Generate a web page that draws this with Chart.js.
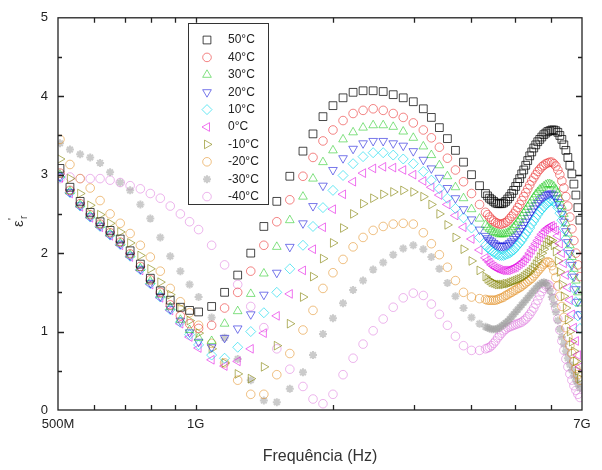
<!DOCTYPE html>
<html>
<head>
<meta charset="utf-8">
<script src="https://cdn.jsdelivr.net/npm/chart.js@4"></script>
<style>
  html, body { margin: 0; padding: 0; background: #fff; }
  #wrap { width: 602px; height: 470px; }
</style>
</head>
<body>
<div id="wrap"><canvas id="chart" width="602" height="470"></canvas></div>
<script>
// Frequency points (GHz), shared by every temperature
const freqGHz = [0.505, 0.531, 0.559, 0.588, 0.618, 0.650, 0.684, 0.719, 0.757, 0.796, 0.837, 0.880, 0.926, 0.970,
  1.015, 1.084, 1.157, 1.236, 1.320, 1.410, 1.505, 1.607, 1.717,
  1.806, 1.899, 1.997, 2.101, 2.210, 2.324, 2.445, 2.572, 2.705, 2.845, 2.993, 3.148,
  3.278, 3.413, 3.554, 3.701, 3.854, 4.013, 4.178,
  4.306, 4.350, 4.395, 4.439, 4.485, 4.530, 4.577, 4.623, 4.671, 4.718, 4.766, 4.815,
  4.863, 4.913, 4.962, 5.013, 5.064, 5.115, 5.167, 5.220, 5.273, 5.326, 5.380, 5.435,
  5.490, 5.546, 5.602, 5.659, 5.717, 5.775, 5.834, 5.893, 5.952, 6.013, 6.074, 6.136,
  6.198, 6.261, 6.325, 6.389, 6.454, 6.519, 6.585, 6.652, 6.720, 6.788, 6.857, 6.927];

const temps = ['50°C', '40°C', '30°C', '20°C', '10°C', '0°C', '-10°C', '-20°C', '-30°C', '-40°C'];

// real permittivity for each temperature
const eps50 = [3.08, 2.84, 2.66, 2.52, 2.40, 2.29, 2.18, 2.03, 1.86, 1.68, 1.52, 1.40, 1.31, 1.27, 1.25,
  1.32, 1.50, 1.72, 2.00, 2.34, 2.66, 2.98, 3.30,
  3.52, 3.74, 3.88, 3.98, 4.05, 4.07, 4.07, 4.06, 4.02, 3.98, 3.93, 3.84,
  3.73, 3.60, 3.46, 3.31, 3.16, 3.00, 2.86,
  2.76, 2.73, 2.70, 2.68, 2.66, 2.64, 2.63, 2.63, 2.63, 2.64, 2.66, 2.69, 2.72, 2.76, 2.80, 2.85,
  2.90, 2.95, 3.01, 3.06, 3.12, 3.18, 3.24, 3.29, 3.34, 3.38, 3.42, 3.45, 3.48, 3.51, 3.53, 3.55,
  3.56, 3.57, 3.57, 3.56, 3.54, 3.50, 3.45, 3.38, 3.31, 3.22, 3.12, 3.01, 2.88, 2.74, 2.58, 2.42];
const eps40 = [3.02, 2.80, 2.63, 2.49, 2.37, 2.26, 2.14, 1.99, 1.83, 1.66, 1.50, 1.34, 1.20, 1.10, 1.04,
  1.08, 1.30, 1.50, 1.77, 2.10, 2.40, 2.68, 2.98,
  3.22, 3.43, 3.57, 3.69, 3.78, 3.82, 3.84, 3.82, 3.78, 3.73, 3.66, 3.57,
  3.47, 3.35, 3.21, 3.06, 2.91, 2.76, 2.62,
  2.52, 2.49, 2.46, 2.43, 2.41, 2.39, 2.38, 2.37, 2.37, 2.38, 2.39, 2.41, 2.44, 2.47, 2.50, 2.54,
  2.58, 2.62, 2.67, 2.72, 2.77, 2.82, 2.87, 2.92, 2.96, 3.00, 3.04, 3.07, 3.10, 3.12, 3.14, 3.15,
  3.16, 3.16, 3.14, 3.11, 3.06, 3.00, 2.92, 2.83, 2.72, 2.60, 2.46, 2.31, 2.16, 2.00, 1.85, 1.70];
const eps30 = [3.00, 2.79, 2.62, 2.48, 2.36, 2.25, 2.13, 1.98, 1.81, 1.64, 1.47, 1.31, 1.15, 1.02, 0.92,
  0.88, 1.10, 1.26, 1.48, 1.74, 2.08, 2.42, 2.72,
  2.95, 3.16, 3.31, 3.45, 3.54, 3.60, 3.63, 3.63, 3.61, 3.55, 3.47, 3.36,
  3.25, 3.12, 2.98, 2.84, 2.70, 2.56, 2.44,
  2.36, 2.33, 2.31, 2.29, 2.27, 2.26, 2.25, 2.24, 2.24, 2.24, 2.25, 2.26, 2.28, 2.30, 2.33, 2.36,
  2.40, 2.43, 2.47, 2.51, 2.55, 2.59, 2.63, 2.67, 2.71, 2.75, 2.78, 2.81, 2.83, 2.85, 2.87, 2.88,
  2.88, 2.87, 2.85, 2.81, 2.76, 2.69, 2.60, 2.50, 2.38, 2.25, 2.10, 1.95, 1.80, 1.65, 1.50, 1.36];
const eps20 = [2.98, 2.78, 2.61, 2.47, 2.35, 2.24, 2.12, 1.97, 1.80, 1.62, 1.45, 1.29, 1.14, 0.99, 0.87,
  0.80, 0.92, 1.04, 1.22, 1.47, 1.75, 2.08, 2.38,
  2.60, 2.86, 3.06, 3.21, 3.33, 3.40, 3.43, 3.43, 3.40, 3.37, 3.30, 3.19,
  3.08, 2.96, 2.83, 2.70, 2.56, 2.43, 2.30,
  2.22, 2.19, 2.17, 2.15, 2.13, 2.11, 2.10, 2.09, 2.09, 2.09, 2.10, 2.11, 2.13, 2.15, 2.18, 2.21,
  2.24, 2.28, 2.32, 2.36, 2.40, 2.45, 2.49, 2.53, 2.57, 2.61, 2.64, 2.67, 2.70, 2.72, 2.74, 2.75,
  2.76, 2.76, 2.74, 2.70, 2.65, 2.58, 2.50, 2.40, 2.28, 2.14, 2.00, 1.85, 1.70, 1.54, 1.38, 1.22];
const eps10 = [2.97, 2.77, 2.60, 2.46, 2.34, 2.23, 2.11, 1.96, 1.79, 1.61, 1.44, 1.28, 1.12, 0.96, 0.83,
  0.70, 0.66, 0.80, 1.00, 1.24, 1.50, 1.80, 2.10,
  2.34, 2.58, 2.80, 2.99, 3.14, 3.23, 3.28, 3.28, 3.25, 3.20, 3.14, 3.04,
  2.93, 2.82, 2.70, 2.57, 2.45, 2.32, 2.20,
  2.10, 2.07, 2.05, 2.03, 2.01, 1.99, 1.98, 1.97, 1.97, 1.97, 1.98, 1.99, 2.00, 2.02, 2.04, 2.07,
  2.10, 2.13, 2.16, 2.20, 2.24, 2.28, 2.32, 2.37, 2.41, 2.45, 2.49, 2.53, 2.56, 2.59, 2.62, 2.64,
  2.66, 2.67, 2.66, 2.63, 2.58, 2.51, 2.42, 2.31, 2.18, 2.04, 1.88, 1.72, 1.55, 1.38, 1.20, 1.04];
const eps0 = [2.96, 2.76, 2.59, 2.45, 2.33, 2.22, 2.10, 1.95, 1.78, 1.60, 1.43, 1.27, 1.10, 0.93, 0.79,
  0.64, 0.56, 0.62, 0.78, 0.98, 1.20, 1.48, 1.78,
  2.05, 2.33, 2.56, 2.75, 2.91, 3.02, 3.08, 3.10, 3.09, 3.06, 3.00, 2.92,
  2.84, 2.74, 2.62, 2.48, 2.33, 2.18, 2.04,
  1.94, 1.91, 1.88, 1.85, 1.83, 1.81, 1.80, 1.79, 1.78, 1.78, 1.78, 1.78, 1.79, 1.80, 1.81, 1.82,
  1.84, 1.86, 1.88, 1.90, 1.93, 1.96, 2.00, 2.04, 2.08, 2.12, 2.16, 2.20, 2.24, 2.27, 2.30, 2.32,
  2.34, 2.35, 2.33, 2.29, 2.22, 2.12, 2.00, 1.87, 1.72, 1.56, 1.40, 1.22, 1.05, 0.88, 0.70, 0.55];
const epsM10 = [3.20, 2.95, 2.76, 2.61, 2.49, 2.38, 2.27, 2.13, 1.97, 1.80, 1.63, 1.47, 1.30, 1.14, 0.98,
  0.78, 0.60, 0.46, 0.40, 0.55, 0.82, 1.10, 1.44,
  1.70, 1.93, 2.13, 2.32, 2.50, 2.63, 2.70, 2.75, 2.78, 2.80, 2.78, 2.72,
  2.62, 2.50, 2.36, 2.20, 2.05, 1.90, 1.78,
  1.70, 1.67, 1.65, 1.63, 1.62, 1.61, 1.60, 1.60, 1.60, 1.60, 1.61, 1.61, 1.62, 1.63, 1.64, 1.65,
  1.66, 1.67, 1.68, 1.70, 1.72, 1.74, 1.76, 1.79, 1.82, 1.86, 1.90, 1.95, 2.00, 2.05, 2.10, 2.14,
  2.17, 2.16, 2.10, 2.02, 1.90, 1.76, 1.60, 1.45, 1.30, 1.15, 1.00, 0.87, 0.75, 0.62, 0.50, 0.40];
const epsM20 = [3.45, 3.13, 2.95, 2.83, 2.67, 2.50, 2.38, 2.25, 2.10, 1.95, 1.77, 1.55, 1.38, 1.24, 1.08,
  0.85, 0.60, 0.38, 0.20, 0.20, 0.45, 0.72, 1.02,
  1.27, 1.55, 1.75, 1.92, 2.08, 2.20, 2.29, 2.34, 2.37, 2.38, 2.37, 2.26,
  2.12, 1.98, 1.82, 1.65, 1.50, 1.44, 1.42,
  1.41, 1.40, 1.40, 1.40, 1.40, 1.40, 1.41, 1.42, 1.43, 1.44, 1.46, 1.47, 1.49, 1.50, 1.52, 1.53,
  1.55, 1.56, 1.58, 1.60, 1.62, 1.64, 1.66, 1.68, 1.71, 1.74, 1.77, 1.80, 1.83, 1.86, 1.88, 1.89,
  1.88, 1.84, 1.78, 1.69, 1.58, 1.45, 1.32, 1.18, 1.05, 0.93, 0.82, 0.72, 0.62, 0.53, 0.45, 0.38];
const epsM30 = [3.40, 3.32, 3.26, 3.22, 3.15, 3.03, 2.90, 2.80, 2.62, 2.44, 2.20, 1.96, 1.77, 1.60, 1.44,
  1.18, 0.92, 0.65, 0.38, 0.12, 0.10, 0.27, 0.48,
  0.70, 0.97, 1.17, 1.36, 1.53, 1.65, 1.79, 1.88, 1.98, 2.06, 2.10, 2.05,
  1.95, 1.80, 1.62, 1.45, 1.30, 1.18, 1.10,
  1.06, 1.05, 1.04, 1.03, 1.03, 1.03, 1.04, 1.05, 1.07, 1.09, 1.11, 1.13, 1.16, 1.19, 1.22, 1.25,
  1.28, 1.31, 1.34, 1.37, 1.40, 1.43, 1.46, 1.49, 1.52, 1.55, 1.58, 1.60, 1.62, 1.63, 1.62, 1.58,
  1.52, 1.44, 1.35, 1.25, 1.14, 1.03, 0.93, 0.84, 0.75, 0.66, 0.58, 0.51, 0.44, 0.38, 0.33, 0.28];
const epsM40 = [2.95, 2.97, 2.95, 2.95, 2.95, 2.93, 2.90, 2.86, 2.82, 2.76, 2.70, 2.60, 2.50, 2.40, 2.30,
  2.10, 1.85, 1.60, 1.32, 1.05, 0.78, 0.52, 0.30,
  0.14, 0.08, 0.20, 0.45, 0.66, 0.84, 1.01, 1.16, 1.31, 1.43, 1.49, 1.46,
  1.35, 1.22, 1.08, 0.94, 0.82, 0.76, 0.76,
  0.78, 0.79, 0.80, 0.82, 0.85, 0.88, 0.92, 0.95, 0.98, 1.01, 1.03, 1.05, 1.06, 1.07, 1.08, 1.09,
  1.10, 1.11, 1.12, 1.14, 1.16, 1.19, 1.22, 1.26, 1.30, 1.35, 1.40, 1.46, 1.51, 1.55, 1.58, 1.60,
  1.58, 1.52, 1.42, 1.30, 1.16, 1.02, 0.88, 0.76, 0.65, 0.55, 0.46, 0.38, 0.31, 0.25, 0.20, 0.16];

const allSeries = [eps50, eps40, eps30, eps20, eps10, eps0, epsM10, epsM20, epsM30, epsM40];

// axis ticks
const xLabelTicks = [0.5, 1, 7];
const xLabelText = ['500M', '1G', '7G'];
const xTickMarks = [0.6, 0.7, 0.8, 0.9, 1, 2, 3, 4, 5, 6];
const yTickMarks = [0.5, 1, 1.5, 2, 2.5, 3, 3.5, 4, 4.5];

// marker look for each series
const markers = [
  { style: 'rect', rot: 0, r: 5.5, color: 'rgba(0,0,0,0.72)' },
  { style: 'circle', rot: 0, r: 4.3, color: 'rgba(235,50,50,0.6)' },
  { style: 'triangle', rot: 0, r: 5, color: 'rgba(30,200,30,0.55)' },
  { style: 'triangle', rot: 180, r: 5, color: 'rgba(30,30,220,0.6)' },
  { style: 'rectRot', rot: 0, r: 5, color: 'rgba(0,215,235,0.6)' },
  { style: 'triangle', rot: 270, r: 5, color: 'rgba(225,0,225,0.55)' },
  { style: 'triangle', rot: 90, r: 5, color: 'rgba(128,128,0,0.6)' },
  { style: 'circle', rot: 0, r: 4.3, color: 'rgba(225,140,30,0.55)' },
  { style: 'star', rot: 0, r: 4, color: 'rgba(160,160,160,0.55)' },
  { style: 'circle', rot: 0, r: 4.3, color: 'rgba(220,110,220,0.5)' }
];

const datasets = allSeries.map((vals, i) => ({
  label: temps[i],
  data: freqGHz.map((f, j) => ({ x: f, y: vals[j] })),
  showLine: false,
  pointStyle: markers[i].style,
  rotation: markers[i].rot,
  pointRadius: markers[i].r,
  borderColor: markers[i].color,
  backgroundColor: 'rgba(0,0,0,0)',
  borderWidth: i === 8 ? 2 : 1
}));

// box round the plot with inward ticks
const frameTicks = {
  id: 'frameTicks',
  afterDatasetsDraw(chart) {
    const { ctx, chartArea: a, scales: { x, y } } = chart;
    ctx.save();
    ctx.strokeStyle = '#222';
    ctx.lineWidth = 1.3;
    ctx.strokeRect(a.left, a.top, a.right - a.left, a.bottom - a.top);
    ctx.beginPath();
    xTickMarks.forEach(v => {
      const px = Math.round(x.getPixelForValue(v)) + 0.5;
      ctx.moveTo(px, a.bottom); ctx.lineTo(px, a.bottom - 5);
      ctx.moveTo(px, a.top); ctx.lineTo(px, a.top + 5);
    });
    yTickMarks.forEach(v => {
      const py = Math.round(y.getPixelForValue(v)) + 0.5;
      const len = Number.isInteger(v) ? 6 : 4;
      ctx.moveTo(a.left, py); ctx.lineTo(a.left + len, py);
      ctx.moveTo(a.right, py); ctx.lineTo(a.right - len, py);
    });
    ctx.stroke();
    ctx.restore();
  }
};

// legend box inside the plot, plus the y axis title
const boxLegend = {
  id: 'boxLegend',
  afterDraw(chart) {
    const ctx = chart.ctx;
    ctx.save();
    ctx.strokeStyle = '#333';
    ctx.lineWidth = 1;
    ctx.strokeRect(188.5, 23.5, 80, 181);
    ctx.font = '12px "Liberation Sans", Arial, sans-serif';
    ctx.textBaseline = 'middle';
    temps.forEach((t, i) => {
      const yy = 40 + i * 17.4;
      const m = markers[i];
      ctx.strokeStyle = m.color;
      ctx.fillStyle = 'rgba(0,0,0,0)';
      ctx.lineWidth = i === 8 ? 2 : 1;
      Chart.helpers.drawPoint(ctx, { pointStyle: m.style, rotation: m.rot, radius: m.r, borderWidth: ctx.lineWidth }, 207, yy);
      ctx.fillStyle = '#222';
      ctx.fillText(t, 228, yy);
    });
    // epsilon prime, subscript r
    ctx.translate(18, 222);
    ctx.rotate(-Math.PI / 2);
    ctx.fillStyle = '#333';
    ctx.textBaseline = 'alphabetic';
    ctx.font = '15px "Liberation Sans", Arial, sans-serif';
    ctx.fillText('ε', -5, 5);
    ctx.font = '10px "Liberation Sans", Arial, sans-serif';
    ctx.fillText("'", 2, -2);
    ctx.fillText('r', 3, 9);
    ctx.restore();
  }
};

const tickFont = { family: '"Liberation Sans", Arial, sans-serif', size: 13 };

new Chart(document.getElementById('chart'), {
  type: 'scatter',
  data: { datasets },
  options: {
    responsive: false,
    animation: false,
    layout: { padding: { left: 0, right: 20, top: 15, bottom: 0 } },
    plugins: { legend: { display: false }, tooltip: { enabled: false } },
    scales: {
      x: {
        type: 'logarithmic',
        min: 0.5,
        max: 7,
        afterBuildTicks: s => { s.ticks = xLabelTicks.map(v => ({ value: v })); },
        afterFit: s => { s.height = 60; },
        grid: { display: false, drawTicks: false },
        border: { display: false },
        ticks: {
          autoSkip: false,
          maxRotation: 0,
          padding: 7,
          color: '#222',
          font: tickFont,
          callback: v => xLabelText[xLabelTicks.indexOf(v)]
        },
        title: {
          display: true,
          text: 'Frequência (Hz)',
          color: '#333',
          font: { family: '"Liberation Sans", Arial, sans-serif', size: 16 },
          padding: { top: 14, bottom: 4 }
        }
      },
      y: {
        min: 0,
        max: 5,
        afterFit: s => { s.width = 58; },
        grid: { display: false, drawTicks: false },
        border: { display: false },
        ticks: { stepSize: 1, padding: 10, color: '#222', font: tickFont }
      }
    }
  },
  plugins: [frameTicks, boxLegend]
});
</script>
</body>
</html>
